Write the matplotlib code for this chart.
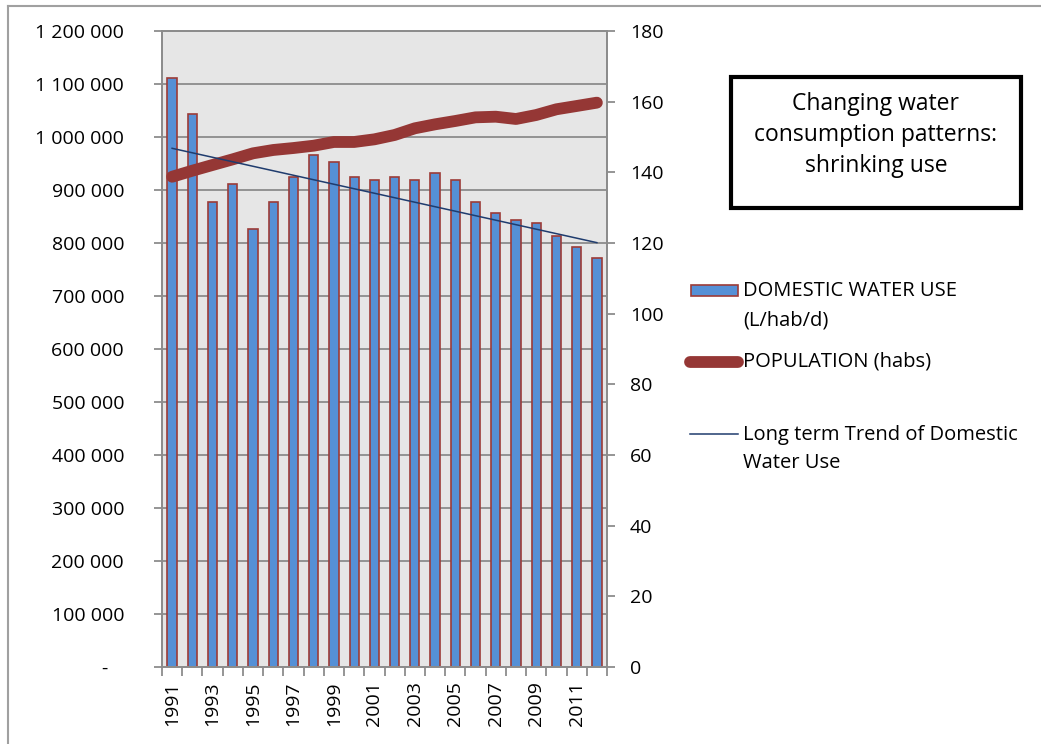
import matplotlib.pyplot as plt
from matplotlib.lines import Line2D
from matplotlib.patches import Rectangle
import numpy as np

plt.rcParams['font.family'] = ['Open Sans', 'DejaVu Sans']

years = list(range(1991, 2013))
water_use = [166.6, 156.4, 131.6, 136.7, 124.0, 131.6, 138.8, 144.8, 142.8, 138.8, 137.7,
             138.8, 137.7, 139.7, 137.7, 131.6, 128.6, 126.6, 125.6, 122.0, 119.0, 115.8]
population = [925000, 936400, 947200, 957900, 969200, 975500, 979200, 983600, 990600, 990600,
              995600, 1003800, 1016400, 1023900, 1030200, 1037100, 1038300, 1034000, 1041500,
              1052300, 1058500, 1064800]
trend_years = [1991, 2012]
trend_values = [146.8, 120.1]
left_ticks = [0, 100000, 200000, 300000, 400000, 500000, 600000, 700000, 800000, 900000,
              1000000, 1100000, 1200000]
right_ticks = [0, 20, 40, 60, 80, 100, 120, 140, 160, 180]
title_text = "Changing water\nconsumption patterns:\nshrinking use"

W, H = 1041, 744
PT = 0.72  # px -> pt at dpi 100
fig = plt.figure(figsize=(W / 100, H / 100), dpi=100)
ax = fig.add_axes([162 / W, 1 - 667 / H, (607 - 162) / W, (667 - 31) / H])
ax2 = ax.twinx()

grid_c = '#8c8c8c'
ax.set_xlim(1990.5, 2012.5)
ax.set_ylim(0, 1200000)
ax2.set_ylim(0, 180)
ax.set_yticks(left_ticks)
ax.set_yticklabels([f"{v:,}".replace(',', ' ') if v else '-   ' for v in left_ticks])
ax2.set_yticks(right_ticks)

# population on left axis, water use + trend on right
ax.set_zorder(1)
ax2.set_zorder(0)
ax.patch.set_visible(False)
ax2.set_facecolor('#e6e6e6')
ax2.patch.set_visible(True)
for y in left_ticks[1:]:
    ax2.axhline(y * 180 / 1200000, color=grid_c, lw=1.3, zorder=0.5)

ax2.bar(years, water_use, width=0.46, color='#5590d6', edgecolor='#9c3b37', lw=1.2, zorder=2)
ax.plot(years, population, color='#953735', lw=8.5, solid_capstyle='round', zorder=3)
ax.plot(trend_years, np.array(trend_values) * 1200000 / 180, color='#1f3c6e', lw=1.1, zorder=4)

fs = 14
ax.set_xticks(np.arange(1990.5, 2013, 1))
ax.set_xticklabels([])
ax.set_xticks(years[::2], [str(y) for y in years[::2]], minor=True)
ax.tick_params(axis='x', which='major', length=9 * PT, color=grid_c, width=1.3)
ax.tick_params(axis='x', which='minor', length=0, pad=14 * PT, labelrotation=90, labelsize=fs)
ax.tick_params(axis='y', length=8 * PT, color=grid_c, width=1.3, pad=30 * PT, labelsize=fs)
ax2.tick_params(axis='y', length=8 * PT, color=grid_c, width=1.3, pad=15 * PT, labelsize=fs)
for a in (ax, ax2):
    for s in a.spines.values():
        s.set_color(grid_c)
        s.set_linewidth(1.3)

# outer chart border
fig.add_artist(Line2D([8 / W, 8 / W], [0, 1 - 6 / H], color='#a0a0a0', lw=1.5))
fig.add_artist(Line2D([8 / W, 1], [1 - 6 / H, 1 - 6 / H], color='#a0a0a0', lw=1.5))

# title box
fig.add_artist(Rectangle((731 / W, 1 - 208 / H), 290 / W, 131 / H, fill=False,
                         edgecolor='black', lw=3))
fig.text(876 / W, 1 - 135 / H, title_text, ha='center', va='center', fontsize=16.5,
         linespacing=1.4)

# legend
lfs = 14.5
fig.add_artist(Rectangle((691 / W, 1 - 296 / H), 47 / W, 11 / H, facecolor='#5590d6',
                         edgecolor='#9c3b37', lw=1.2))
fig.text(743 / W, 1 - 291 / H, "DOMESTIC WATER USE", va='center', fontsize=lfs)
fig.text(743 / W, 1 - 320 / H, "(L/hab/d)", va='center', fontsize=lfs)
fig.add_artist(Line2D([690 / W, 738 / W], [1 - 362 / H, 1 - 362 / H], color='#953735', lw=8.5,
                      solid_capstyle='round'))
fig.text(743 / W, 1 - 362 / H, "POPULATION (habs)", va='center', fontsize=lfs)
fig.add_artist(Line2D([690 / W, 738 / W], [1 - 434 / H, 1 - 434 / H], color='#1f3c6e', lw=1.1))
fig.text(743 / W, 1 - 435 / H, "Long term Trend of Domestic", va='center', fontsize=lfs)
fig.text(743 / W, 1 - 463 / H, "Water Use", va='center', fontsize=lfs)

plt.savefig('out.png', dpi=100)
